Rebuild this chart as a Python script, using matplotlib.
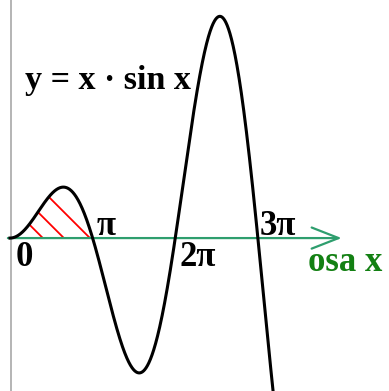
import numpy as np
import matplotlib
matplotlib.use("Agg")
import matplotlib.pyplot as plt
from matplotlib.patches import Polygon

# Data
x_start, x_end = 0.0, 10.3
x = np.linspace(x_start, x_end, 1000)
y = x * np.sin(x)
tick_vals = [0, np.pi, 2 * np.pi, 3 * np.pi]
tick_labels = ["0", "π", "2π", "3π"]
hatch_bases = [1.25, 2.05, 3.04]

W, H = 389, 391
fig = plt.figure(figsize=(W / 100, H / 100), dpi=100)
ax = fig.add_axes([0, 0, 1, 1])
ax.set_xlim(-0.38, 14.41)
ax.set_ylim(-5.46, 8.5)
ax.axis("off")

serif = ["Liberation Serif", "DejaVu Serif"]

# vertical axis
ax.axvline(0.04, color="#b4b4b4", lw=1.4, zorder=1)

# hatched region under curve between 0 and pi
xm = np.linspace(0, np.pi, 300)
ym = xm * np.sin(xm)
poly = Polygon(np.column_stack([np.r_[xm, xm[::-1]], np.r_[ym, np.zeros_like(ym)]]),
               closed=True, facecolor="none", edgecolor="none")
ax.add_patch(poly)
kx = 26.3 / 28.0
for c in hatch_bases:
    xs = np.array([c - 3, c])
    ys = -kx * (xs - c)
    ln, = ax.plot(xs, ys, color="red", lw=1.3, zorder=2)
    ln.set_clip_path(poly)

# x axis
ax.annotate("", xy=(12.61, 0), xytext=(-0.08, 0),
            arrowprops=dict(arrowstyle="->,head_length=0.97,head_width=0.38", color="#2e9e6e",
                            lw=1.6, mutation_scale=20, shrinkA=0, shrinkB=0), zorder=3)

# curve
ax.plot(x, y, color="black", lw=2.2, zorder=4)

# labels
pos = [(0.53, -0.71), (3.65, 0.43), (7.15, -0.71), (10.19, 0.43)]
for (tx, ty), lab in zip(pos, tick_labels):
    ax.text(tx, ty, lab, fontsize=25, fontweight="bold", family=serif,
            ha="center", va="center", color="black", zorder=5)
ax.text(12.74, -0.86, "osa x", fontsize=25, fontweight="bold", family=serif,
        ha="center", va="center", color="#138013", zorder=5)
ax.text(0.57, 5.64, "y = x · sin x", fontsize=24.5, fontweight="bold", family=serif,
        ha="left", va="center", color="black", zorder=5)

fig.savefig("out.png", dpi=100, facecolor="white")
